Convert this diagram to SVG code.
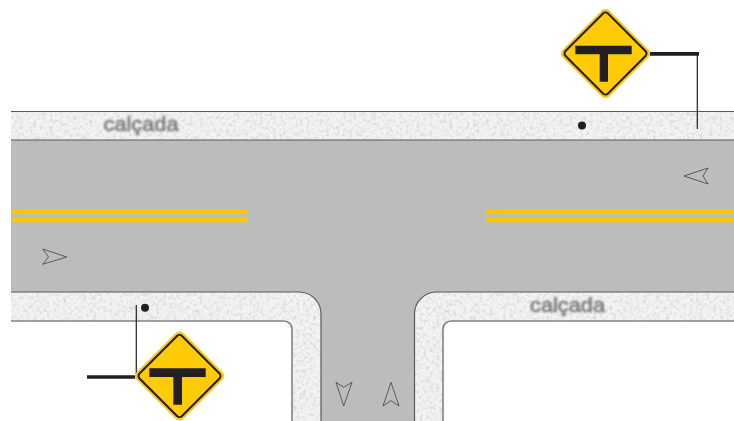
<svg xmlns="http://www.w3.org/2000/svg" width="734" height="421" viewBox="0 0 734 421">
<style>
.walk{fill:#f3f3f4;filter:url(#grain)}
.edge{fill:none;stroke:#58595b;stroke-width:1.2}
.inner{fill:none;stroke:#808285;stroke-width:1.6}
.road{fill:#bbbcbe}
.line{fill:#ffc800}
.arrow{fill:none;stroke:#404042;stroke-width:.8;stroke-linejoin:miter}
.lbl{font-family:"Liberation Sans",Arial,sans-serif;font-size:20px;fill:#77787b;stroke:#77787b;stroke-width:.6;filter:url(#soft)}
.outer{fill:#fcc60c;stroke:#fcc60c;stroke-width:1;stroke-linejoin:round}
.border{fill:#ffcb05;stroke:#231f20;stroke-width:2;stroke-linejoin:round}
.tee{fill:#231f20}
.wire{stroke:#231f20;stroke-width:1.2;fill:none}
.arm{stroke:#231f20;stroke-width:3.6;fill:none}
.dot{fill:#231f20}
</style>
<defs>
<filter id="grain" x="0" y="0" width="100%" height="100%">
<feTurbulence type="fractalNoise" baseFrequency="0.3" numOctaves="3" seed="4" result="n"/>
<feColorMatrix in="n" type="matrix" values="0 0 0 0 0.68  0 0 0 0 0.68  0 0 0 0 0.69  2.4 0 0 0 -1.05" result="s"/>
<feComposite in="s" in2="SourceGraphic" operator="in" result="c"/>
<feMerge><feMergeNode in="SourceGraphic"/><feMergeNode in="c"/></feMerge>
</filter>
<filter id="soft" x="-5%" y="-20%" width="110%" height="140%"><feGaussianBlur stdDeviation="0.9"/></filter>
<g id="sign">
<rect class="outer" x="-32.500" y="-32.500" width="65" height="65" rx="4.500" transform="rotate(45)"/>
<rect class="border" x="-30" y="-30" width="60" height="60" rx="3.500" transform="rotate(45)"/>
</g>
</defs>
<g id="pavement">
<rect id="sidewalk-top" class="walk" x="11" y="111" width="723" height="29"/>
<path id="sidewalk-left" class="walk" d="M11 292H299A22 22 0 0 1 321 314V421H292V329A8 8 0 0 0 284 321H11Z"/>
<path id="sidewalk-right" class="walk" d="M734 292H436A22 22 0 0 0 414.500 314V421H443V329A8 8 0 0 1 451 321H734Z"/>
<path id="road" class="road" d="M11 140H734V292H436A22 22 0 0 0 414.500 314V421H321V314A22 22 0 0 0 299 292H11Z"/>
<path class="edge" d="M11 111.500H734M11 140H734"/>
<path class="edge" d="M11 292H299A22 22 0 0 1 321 314V421M734 292H436A22 22 0 0 0 414.500 314V421"/>
<path class="inner" d="M11 321H284A8 8 0 0 1 292 329V421M734 321H451A8 8 0 0 0 443 329V421"/>
</g>
<g id="markings">
<rect class="line" x="11" y="210" width="237" height="4.200"/>
<rect class="line" x="11" y="218" width="237" height="4.300"/>
<rect class="line" x="486" y="210" width="248" height="4.200"/>
<rect class="line" x="486" y="218" width="248" height="4.300"/>
<path class="arrow" d="M66.700 257L42.700 249L48.500 257L42.700 264.300Z"/>
<path class="arrow" d="M684 176L708 168L703 176L708 184Z"/>
<path class="arrow" d="M336 382.300L343.700 387.300L352 382.300L343.700 406Z"/>
<path class="arrow" d="M391 382.300L383 406L391 400.700L399 406Z"/>
</g>
<g id="labels">
<text id="label-top" class="lbl" x="103.500" y="131" textLength="75" lengthAdjust="spacingAndGlyphs">calçada</text>
<text id="label-right" class="lbl" x="530" y="312" textLength="75" lengthAdjust="spacingAndGlyphs">calçada</text>
</g>
<g id="connectors">
<path class="arm" d="M650 53.900H699"/>
<path class="wire" d="M697.300 54V129"/>
<path class="arm" d="M87 377H135"/>
<path class="wire" d="M136.300 305V377"/>
</g>
<g id="dot-top"><circle class="dot" cx="582" cy="125.500" r="4"/></g>
<g id="dot-bottom"><circle class="dot" cx="145" cy="307.700" r="4"/></g>
<g id="sign-top">
<use href="#sign" x="605.500" y="53.500"/>
<path class="tee" d="M575.300 45.700H631.700V54.300H608V81.700H599.700V54.300H575.300Z"/>
</g>
<g id="sign-bottom">
<use href="#sign" x="179.500" y="376"/>
<path class="tee" d="M149.300 368.300H205.700V377H182V404.700H173.300V377H149.300Z"/>
</g>
</svg>
